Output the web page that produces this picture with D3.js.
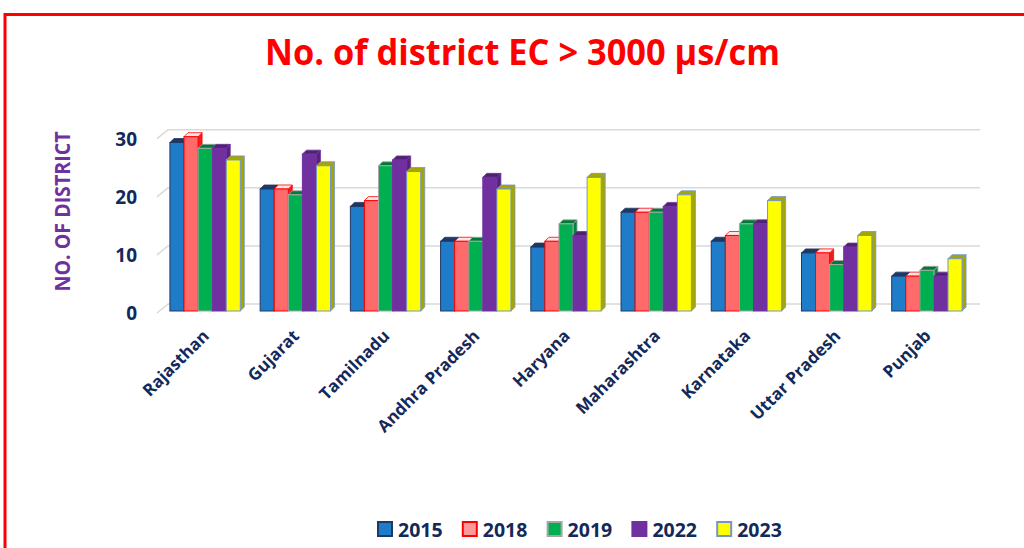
<!DOCTYPE html>
<html>
<head>
<meta charset="utf-8">
<script src="https://cdn.jsdelivr.net/npm/d3@7"></script>
<style>
  body { margin: 0; background: #fff; }
  svg { display: block; font-family: "Open Sans", sans-serif; }
</style>
</head>
<body>
<div id="chart"></div>
<script>
const states = ["Rajasthan", "Gujarat", "Tamilnadu", "Andhra Pradesh", "Haryana",
  "Maharashtra", "Karnataka", "Uttar Pradesh", "Punjab"];
const years = ["2015", "2018", "2019", "2022", "2023"];
const v2015 = [29, 21, 18, 12, 11, 17, 12, 10, 6];
const v2018 = [30, 21, 19, 12, 12, 17, 13, 10, 6];
const v2019 = [28, 20, 25, 12, 15, 17, 15, 8, 7];
const v2022 = [28, 27, 26, 23, 13, 18, 15, 11, 6];
const v2023 = [26, 25, 24, 21, 23, 20, 19, 13, 9];
const yTicks = [0, 10, 20, 30];

const series = [v2015, v2018, v2019, v2022, v2023];

// front / top / side / stroke for each year
const looks = {
  "2015": { front: "#1F7CC9", top: "#1F3864", side: "#1A4A85", stroke: "#1F3864", key: "#1F7CC9" },
  "2018": { front: "#FF6B6B", top: "#FFE5E5", side: "#E52222", stroke: "#FF0000", key: "#FF9999" },
  "2019": { front: "#00B050", top: "#007A37", side: "#00853D", stroke: "#A6A6A6", key: "#00B050" },
  "2022": { front: "#7030A0", top: "#4F2272", side: "#552478", stroke: "#7030A0", key: "#7030A0" },
  "2023": { front: "#FFFF00", top: "#A6A600", side: "#A6A600", stroke: "#7394CC", key: "#FFFF00" }
};

const W = 1024, H = 548;
const svg = d3.select("#chart").append("svg").attr("width", W).attr("height", H);

// red frame
svg.append("rect")
  .attr("x", 5).attr("y", 14.5)
  .attr("width", W + 20).attr("height", H + 20)
  .attr("fill", "none").attr("stroke", "#FF0000").attr("stroke-width", 3);

svg.append("text")
  .attr("x", 265).attr("y", 65)
  .attr("textLength", 515).attr("lengthAdjust", "spacingAndGlyphs")
  .attr("fill", "#FF0000").attr("font-size", 36).attr("font-weight", 700)
  .text("No. of district EC > 3000 µs/cm");

const y = d3.scaleLinear().domain([0, 30]).range([311, 136.7]);
const x0 = d3.scaleBand().domain(states).range([160, 972]).paddingInner(0.22).paddingOuter(0.11);
const x1 = d3.scaleBand().domain(years).range([0, x0.bandwidth()]);

const d = 4;          // bar depth
const wallDx = 11, wallDy = -7;
const gridLeft = 157, gridRight = 980;

// gridlines on back wall with slanted side-wall part
svg.append("g").selectAll("path").data(yTicks).join("path")
  .attr("d", t => `M${gridLeft},${y(t) + 2} L${gridLeft + wallDx},${y(t) + wallDy} L${gridRight},${y(t) + wallDy}`)
  .attr("fill", "none").attr("stroke", "#D9D9D9").attr("stroke-width", 1.5);

// y tick labels
svg.append("g").selectAll("text").data(yTicks).join("text")
  .attr("x", 137).attr("y", t => y(t) + 2)
  .attr("text-anchor", "end").attr("dominant-baseline", "central")
  .attr("font-size", 19).attr("font-weight", 700).attr("fill", "#13295A")
  .text(t => t);

svg.append("text")
  .attr("transform", "translate(70,291.5) rotate(-90)")
  .attr("textLength", 160).attr("lengthAdjust", "spacingAndGlyphs")
  .attr("font-size", 21).attr("font-weight", 700).attr("fill", "#7030A0")
  .text("NO. OF DISTRICT");

// bars
const rows = [];
states.forEach((s, i) => {
  years.forEach((yr, j) => rows.push({ state: s, year: yr, value: series[j][i] }));
});

const bars = svg.append("g").selectAll("g").data(rows).join("g")
  .attr("transform", r => `translate(${x0(r.state) + x1(r.year)},0)`);

const bw = x1.bandwidth();

bars.append("path")
  .attr("d", r => `M${bw},${y(r.value)} L${bw + d},${y(r.value) - d} L${bw + d},${y(0) - d} L${bw},${y(0)} Z`)
  .attr("fill", r => looks[r.year].side)
  .attr("stroke", r => looks[r.year].stroke).attr("stroke-width", 0.8);

bars.append("path")
  .attr("d", r => `M0,${y(r.value)} L${d},${y(r.value) - d} L${bw + d},${y(r.value) - d} L${bw},${y(r.value)} Z`)
  .attr("fill", r => looks[r.year].top)
  .attr("stroke", r => looks[r.year].stroke).attr("stroke-width", 0.8);

bars.append("rect")
  .attr("x", 0).attr("y", r => y(r.value))
  .attr("width", bw).attr("height", r => y(0) - y(r.value))
  .attr("fill", r => looks[r.year].front)
  .attr("stroke", r => looks[r.year].stroke).attr("stroke-width", 1);

// category labels
svg.append("g").selectAll("text").data(states).join("text")
  .attr("transform", s => `translate(${x0(s) + x0.bandwidth() / 2 + 5},337) rotate(-45)`)
  .attr("text-anchor", "end")
  .attr("font-size", 17).attr("font-weight", 700).attr("fill", "#13295A")
  .text(s => s);

// legend
const legend = svg.append("g").selectAll("g").data(years).join("g")
  .attr("transform", (yr, i) => `translate(${377 + i * 84.8},529)`);

legend.append("rect")
  .attr("x", 1).attr("y", -7).attr("width", 14).attr("height", 14)
  .attr("fill", yr => looks[yr].key)
  .attr("stroke", yr => looks[yr].stroke).attr("stroke-width", 2);

legend.append("text")
  .attr("x", 21).attr("y", 0).attr("dominant-baseline", "central")
  .attr("font-size", 19.5).attr("font-weight", 700).attr("fill", "#13295A")
  .text(yr => yr);
</script>
</body>
</html>
